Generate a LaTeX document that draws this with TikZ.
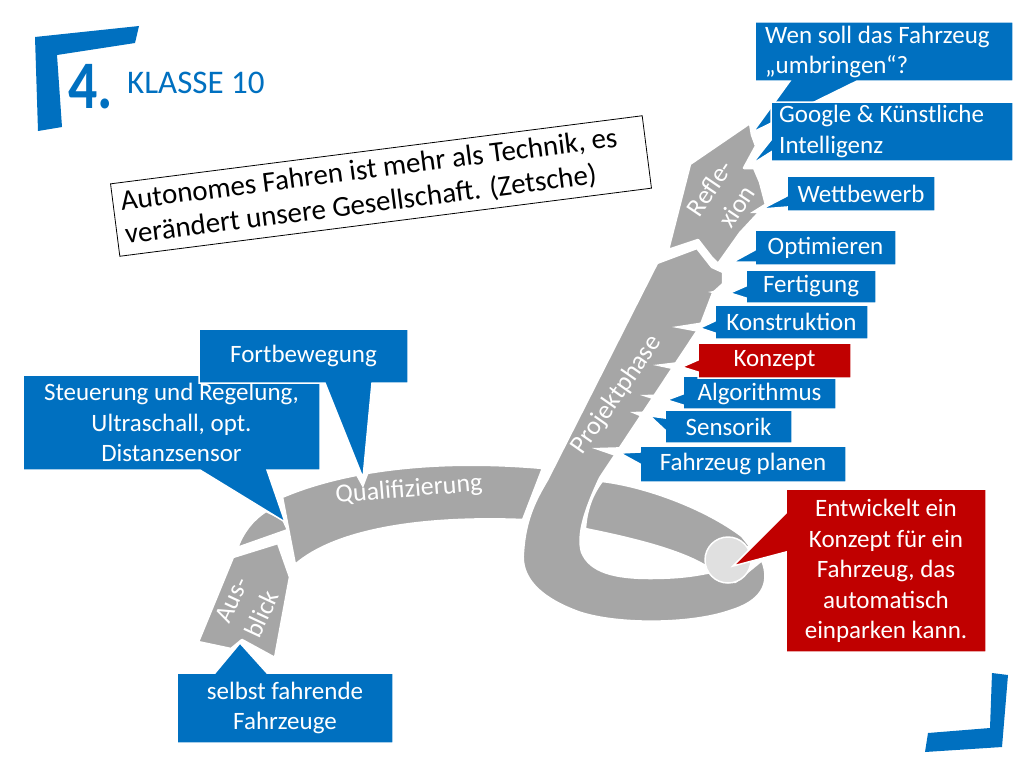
\documentclass[tikz,border=0pt]{standalone}
\usepackage{fontspec}
\setmainfont{Carlito}
\definecolor{pblue}{HTML}{0070C0}
\definecolor{pred}{HTML}{C00000}
\definecolor{road}{HTML}{A6A6A6}
\definecolor{dotc}{HTML}{E0E0E0}
\begin{document}
\begin{tikzpicture}[x=1pt,y=-1pt,
  callout/.style={draw=white, line width=1.5pt, line join=miter},
  bluebox/.style={callout, fill=pblue},
  redbox/.style={callout, fill=pred},
  roadpart/.style={fill=road, draw=white, line width=2.5pt, line join=round},
  notch/.style={fill=white},
  ctext/.style={text=white, font=\fontsize{25}{30.5}\selectfont, align=center, inner sep=0pt},
  rtext/.style={text=white, font=\fontsize{26}{33}\selectfont, align=center, inner sep=0pt}]
\useasboundingbox (0,0) rectangle (1024,768);
\fill[white] (0,0) rectangle (1024,768);

% logo and corner marks
\fill[pblue] (35,37) -- (139,26) -- (135,43) -- (57,55) -- (62,127) -- (38,131) -- cycle;
\node[text=pblue, font=\fontsize{68}{68}\selectfont\bfseries, anchor=base west, inner sep=0pt] (num) at (68,108) {\scalebox{0.85}[1]{4.}};
\node[text=pblue, font=\fontsize{33}{40}\selectfont, anchor=base west, inner sep=0pt] (title) at (127,93) {KLASSE 10};
\fill[pblue] (992,673) -- (1008,675) -- (1002,747) -- (925,752) -- (928,733) -- (990,728) -- cycle;

% quote
\node[draw=black, line width=0.8pt, rotate=7.3, minimum width=536pt, minimum height=73pt, text width=520pt, align=flush left, inner sep=6pt, font=\fontsize{29}{34}\selectfont] (quote) at (381,186) {Autonomes Fahren ist mehr als Technik, es\\verändert unsere Gesellschaft. (Zetsche)};

% road
\path[roadpart] (233,557) -- (278,543) -- (290,577) -- (275,658) -- (242,640) -- (231,649) -- (198,642) -- cycle;
\path[roadpart] (237,548) .. controls (243,532) and (252,520) .. (266,511) -- (283,519) -- (288,530) -- cycle;
\path[roadpart] (282,497) .. controls (340,472) and (430,458) .. (543,468) -- (523,520) .. controls (420,516) and (335,530) .. (295,565) -- cycle;
\path[roadpart] (750,123) -- (690,164) -- (668,250) -- (698,240) -- (712,258) -- (718,264) -- (740,233) -- (766,205) -- (760,182) -- (754,168) -- (744,168) -- (756,146) -- (752,135) -- cycle;
\path[roadpart] (657,263) -- (697,248) -- (712,267) -- (723,272) -- (723,284) -- (713,293) -- (700,327) -- (600,478) .. controls (585,510) and (577,535) .. (582,552) .. controls (590,572) and (615,578) .. (650,578) .. controls (685,578) and (700,574) .. (712,572) -- (735,582) -- (762,560) .. controls (772,585) and (760,602) .. (730,611) .. controls (690,625) and (615,625) .. (578,612) .. controls (540,598) and (520,578) .. (523,552) .. controls (525,520) and (535,500) .. (547,480) -- cycle;
\path[roadpart] (602,481) .. controls (645,486) and (705,508) .. (742,536) -- (750,546) -- (722,562) -- (707,567) .. controls (680,550) and (630,538) .. (585,529) .. controls (586,510) and (592,494) .. (602,481) -- cycle;
\node[circle, fill=dotc, draw=white, line width=1.5pt, minimum size=46pt, inner sep=0pt] (start) at (728,560) {};

% road labels
\node[rtext, rotate=65] (ausblick) at (247,607) {Aus-\\blick};
\node[rtext, rotate=4.6] (quali) at (409,490) {Qualifizierung};
\node[rtext, rotate=55] (projekt) at (617,395) {Projektphase};
\node[rtext, rotate=56] (reflex) at (723,197) {Refle-\\xion};

% notches
\fill[notch] (737,256) -- (714,263) -- (737,266) -- cycle;
\fill[notch] (734,287) -- (708,292) -- (734,298) -- cycle;
\fill[notch] (704,322) -- (672,327) -- (704,333) -- cycle;
\fill[notch] (686,361) -- (653,365) -- (686,372) -- cycle;
\fill[notch] (671,394) -- (640,395) -- (671,405) -- cycle;
\fill[notch] (654,411) -- (630,412) -- (654,422) -- cycle;
\fill[notch] (624,447) -- (592,448) -- (624,459) -- cycle;
\fill[notch] (766,203) -- (750,213) -- (766,213) -- cycle;
\fill[notch] (352,468) -- (363,488) -- (372,464) -- cycle;

% callouts, left side
\path[bluebox] (23,375) -- (320,375) -- (320,470) -- (267,470) -- (285,522) -- (200,470) -- (23,470) -- cycle;
\node[ctext] (steuer) at (171.5,422.5) {Steuerung und Regelung,\\Ultraschall, opt.\\Distanzsensor};
\path[bluebox] (199,329) -- (408,329) -- (408,383) -- (372,383) -- (363,478) -- (325,383) -- (199,383) -- cycle;
\node[ctext] (fort) at (303.5,356) {Fortbewegung};
\path[bluebox] (177,673) -- (215,673) -- (240,643) -- (267,673) -- (393,673) -- (393,743) -- (177,743) -- cycle;
\node[ctext] (selbst) at (285,708) {selbst fahrende\\Fahrzeuge};

% callouts, right side
\path[bluebox] (755,22) -- (1013,22) -- (1013,81) -- (857,81) -- (753,132) -- (790,81) -- (755,81) -- cycle;
\node[ctext, align=left, anchor=west] (wen) at (765,52) {Wen soll das Fahrzeug\\„umbringen“?};
\path[bluebox] (771,102) -- (1013,102) -- (1013,161) -- (771,161) -- (771,152) -- (752,164) -- (771,140) -- cycle;
\node[ctext, align=left, anchor=west] (google) at (779,131.5) {Google \& Künstliche\\Intelligenz};
\path[bluebox] (787,176) -- (935,176) -- (935,211) -- (787,211) -- (787,207) -- (762,209) -- (787,196) -- cycle;
\node[ctext] (wett) at (861,193.5) {Wettbewerb};
\path[bluebox] (755,230) -- (896,230) -- (896,265) -- (755,265) -- (755,262) -- (733,262) -- (755,250) -- cycle;
\node[ctext] (opt) at (825.5,247.5) {Optimieren};
\path[bluebox] (746,270) -- (876,270) -- (876,303) -- (746,303) -- (746,298) -- (730,293) -- (746,286) -- cycle;
\node[ctext] (fert) at (811,286.5) {Fertigung};
\path[bluebox] (715,305) -- (868,305) -- (868,339) -- (715,339) -- (715,333) -- (700,328) -- (715,321) -- cycle;
\node[ctext] (konstr) at (791.5,322) {Konstruktion};
\path[bluebox] (665,410) -- (792,410) -- (792,443) -- (665,443) -- (665,430) -- (650,416) -- (665,418) -- cycle;
\node[ctext] (sens) at (728.5,426.5) {Sensorik};
\path[bluebox] (683,376) -- (836,376) -- (836,409) -- (683,409) -- (683,405) -- (667,400) -- (683,394) -- cycle;
\node[ctext] (algo) at (759.5,393.5) {Algorithmus};
\path[redbox] (698,343) -- (851,343) -- (851,378) -- (698,378) -- (698,372) -- (682,367) -- (698,360) -- cycle;
\node[ctext] (konz) at (774.5,360.5) {Konzept};
\path[bluebox] (640,446) -- (846,446) -- (846,482) -- (640,482) -- (640,464) -- (620,453) -- (640,452) -- cycle;
\node[ctext] (planen) at (743,464) {Fahrzeug planen};
\path[redbox] (786,489) -- (986,489) -- (986,652) -- (786,652) -- (786,552) -- (733,566) -- (786,513) -- cycle;
\node[ctext] (entw) at (886,571) {Entwickelt ein\\Konzept für ein\\Fahrzeug, das\\automatisch\\einparken kann.};
\end{tikzpicture}
\end{document}
